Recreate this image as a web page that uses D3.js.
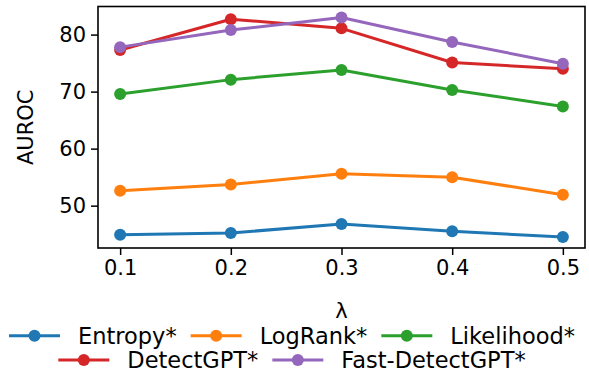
<!DOCTYPE html>
<html><head><meta charset="utf-8">
<script src="https://cdn.jsdelivr.net/npm/d3@7"></script>
<style>
body{margin:0;background:#fff;}
text{font-family:"DejaVu Sans",sans-serif;fill:#000;}
</style></head>
<body><svg id="c" width="589" height="374"></svg>
<script>
const lambdas = [0.1, 0.2, 0.3, 0.4, 0.5];
const seriesNames = ["Entropy*", "LogRank*", "Likelihood*", "DetectGPT*", "Fast-DetectGPT*"];
const entropy = [44.9, 45.2, 46.8, 45.5, 44.5];
const logRank = [52.6, 53.7, 55.6, 55.0, 51.9];
const likelihood = [69.6, 72.1, 73.8, 70.3, 67.4];
const detectGPT = [77.3, 82.7, 81.1, 75.1, 74.0];
const fastDetectGPT = [77.8, 80.8, 83.0, 78.7, 74.9];
const xTicks = [0.1, 0.2, 0.3, 0.4, 0.5];
const yTicks = [50, 60, 70, 80];
const colors = ["#1f77b4", "#ff7f0e", "#2ca02c", "#d62728", "#9467bd"];

const allSeries = [entropy, logRank, likelihood, detectGPT, fastDetectGPT];
const svg = d3.select("#c");
const L = 98, R = 585, T = 6.5, B = 248;
const fs = 21;

const x = d3.scaleLinear().domain([0.08, 0.52]).range([L, R]);
const allVals = allSeries.flat();
const ymin = d3.min(allVals), ymax = d3.max(allVals), pad = (ymax - ymin) * 0.05;
const y = d3.scaleLinear().domain([ymin - pad, ymax + pad]).range([B, T]);

// axes
const xa = svg.append("g").attr("transform", `translate(0,${B})`)
  .call(d3.axisBottom(x).tickValues(xTicks).tickFormat(d3.format(".1f")).tickSize(7).tickPadding(5));
const ya = svg.append("g").attr("transform", `translate(${L},0)`)
  .call(d3.axisLeft(y).tickValues(yTicks).tickSize(7).tickPadding(5));
[xa, ya].forEach(a => {
  a.select(".domain").remove();
  a.selectAll(".tick line").attr("stroke", "#000").attr("stroke-width", 1.5);
  a.selectAll(".tick text").style("font-size", fs + "px").style("font-family", "DejaVu Sans").attr("fill", "#000");
});

// lines
const line = d3.line().x((d, i) => x(lambdas[i])).y(d => y(d));
allSeries.forEach((s, k) => {
  const g = svg.append("g");
  g.append("path").datum(s).attr("d", line).attr("fill", "none")
    .attr("stroke", colors[k]).attr("stroke-width", 3).attr("stroke-linejoin", "round");
  g.selectAll("circle").data(s).enter().append("circle")
    .attr("cx", (d, i) => x(lambdas[i])).attr("cy", d => y(d)).attr("r", 6).attr("fill", colors[k]);
});

// frame
svg.append("rect").attr("x", L).attr("y", T).attr("width", R - L).attr("height", B - T)
  .attr("fill", "none").attr("stroke", "#000").attr("stroke-width", 1.6);

// axis labels
svg.append("text").attr("x", (L + R) / 2).attr("y", 318).attr("text-anchor", "middle")
  .style("font-size", fs + "px").text("λ");
svg.append("text").attr("transform", `translate(33,${(T + B) / 2}) rotate(-90)`)
  .attr("text-anchor", "middle").style("font-size", fs + "px").text("AUROC");

// legend
const rows = [[0, 1, 2], [3, 4]];
const rowY = [335.7, 360];
const handleLen = 51, textGap = 18, entryGap = 14, cx = 292;
rows.forEach((row, r) => {
  const g = svg.append("g");
  const items = row.map(k => {
    const it = g.append("g");
    it.append("line").attr("x1", 0).attr("x2", handleLen).attr("y1", 0).attr("y2", 0)
      .attr("stroke", colors[k]).attr("stroke-width", 3);
    it.append("circle").attr("cx", handleLen / 2).attr("cy", 0).attr("r", 6).attr("fill", colors[k]);
    const t = it.append("text").attr("x", handleLen + textGap).attr("y", 0).attr("dy", "0.36em")
      .style("font-size", "22.5px").text(seriesNames[k]);
    return {it, w: handleLen + textGap + t.node().getComputedTextLength()};
  });
  const total = d3.sum(items, d => d.w) + entryGap * (items.length - 1);
  let cur = cx - total / 2;
  items.forEach(d => { d.it.attr("transform", `translate(${cur},${rowY[r]})`); cur += d.w + entryGap; });
});
</script></body></html>
